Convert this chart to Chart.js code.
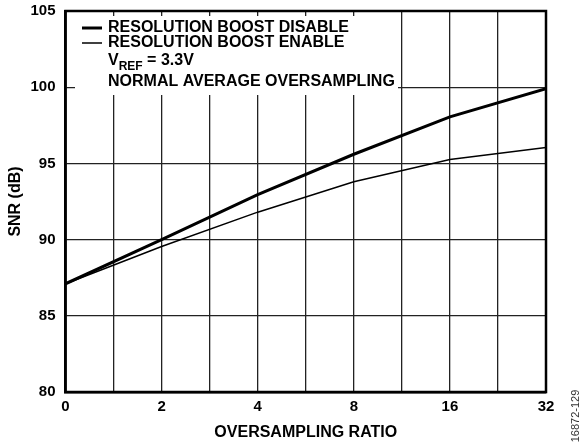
<!DOCTYPE html>
<html>
<head>
<meta charset="utf-8">
<script src="https://cdn.jsdelivr.net/npm/chart.js@4/dist/chart.umd.min.js"></script>
<style>
  html, body { margin: 0; padding: 0; background: #fff; }
  #wrap { width: 582px; height: 446px; }
</style>
</head>
<body>
<div id="wrap"><canvas id="snrCanvas" width="582" height="446"></canvas></div>
<script>
// oversampling ratio tick labels (every other grid line)
var xLabels = ['0', '2', '4', '8', '16', '32'];
var yTicks = [80, 85, 90, 95, 100, 105];

var boostDisable = [87.1, 90.0, 92.95, 95.6, 98.05, 99.9];
var boostEnable = [87.1, 89.55, 91.8, 93.8, 95.25, 96.05];

var seriesNames = ['RESOLUTION BOOST DISABLE', 'RESOLUTION BOOST ENABLE'];
var figId = '16872-129';

var FONT = '"Liberation Sans", Arial, sans-serif';

function toPoints(vals) {
    return vals.map(function (v, i) { return { x: i * 2, y: v }; });
}

// white legend box sitting on top of the grid
var legendBox = {
    id: 'legendBox',
    beforeDatasetsDraw: function (chart) {
        var ctx = chart.ctx;
        ctx.save();
        ctx.fillStyle = '#fff';
        ctx.fillRect(75, 16, 323, 79);

        var rows = [28, 43];
        var widths = [3, 1.5];
        ctx.strokeStyle = '#000';
        ctx.fillStyle = '#000';
        ctx.font = 'bold 16px ' + FONT;
        ctx.textBaseline = 'middle';
        for (var i = 0; i < 2; i++) {
            ctx.lineWidth = widths[i];
            ctx.beginPath();
            ctx.moveTo(82, rows[i]);
            ctx.lineTo(102, rows[i]);
            ctx.stroke();
            ctx.fillText(seriesNames[i], 108, rows[i]);
        }
        // V_REF = 3.3V
        ctx.fillText('V', 108, 61);
        var w = ctx.measureText('V').width;
        ctx.font = 'bold 12px ' + FONT;
        ctx.fillText('REF', 108 + w, 67);
        var w2 = ctx.measureText('REF').width;
        ctx.font = 'bold 16px ' + FONT;
        ctx.fillText(' = 3.3V', 108 + w + w2, 61);
        ctx.fillText('NORMAL AVERAGE OVERSAMPLING', 108, 82);
        ctx.restore();
    },
    afterDatasetsDraw: function (chart) {
        var a = chart.chartArea;
        var ctx = chart.ctx;
        ctx.save();
        ctx.strokeStyle = '#000';
        ctx.lineWidth = 2.5;
        ctx.strokeRect(a.left, a.top, a.right - a.left, a.bottom - a.top);
        // figure number on the right edge
        ctx.translate(576, 416);
        ctx.rotate(-Math.PI / 2);
        ctx.font = '11px ' + FONT;
        ctx.fillStyle = '#333';
        ctx.textAlign = 'center';
        ctx.textBaseline = 'middle';
        ctx.fillText(figId, 0, 0);
        ctx.restore();
    }
};

var ctx = document.getElementById('snrCanvas');
var myChart = new Chart(ctx, {
    type: 'line',
    data: {
        datasets: [
            {
                label: seriesNames[0],
                data: toPoints(boostDisable),
                borderColor: '#000',
                borderWidth: 3,
                pointRadius: 0,
                fill: false,
                tension: 0
            },
            {
                label: seriesNames[1],
                data: toPoints(boostEnable),
                borderColor: '#000',
                borderWidth: 1.5,
                pointRadius: 0,
                fill: false,
                tension: 0
            }
        ]
    },
    plugins: [legendBox],
    options: {
        responsive: false,
        animation: false,
        devicePixelRatio: 1,
        layout: { padding: { top: 11, right: 36, left: 0, bottom: 0 } },
        plugins: {
            legend: { display: false },
            tooltip: { enabled: false }
        },
        scales: {
            x: {
                type: 'linear',
                min: 0,
                max: 10,
                afterBuildTicks: function (scale) {
                    var t = [];
                    for (var i = 0; i <= 10; i++) t.push({ value: i });
                    scale.ticks = t;
                },
                afterFit: function (scale) { scale.height = 54; },
                ticks: {
                    autoSkip: false,
                    maxRotation: 0,
                    padding: 6,
                    color: '#000',
                    font: { family: FONT, size: 15, weight: 'bold' },
                    callback: function (v) { return v % 2 === 0 ? xLabels[v / 2] : ''; }
                },
                grid: { color: '#222', lineWidth: 1.3, drawTicks: false },
                border: { display: true, color: '#000', width: 2.5 },
                title: {
                    display: true,
                    text: 'OVERSAMPLING RATIO',
                    color: '#000',
                    font: { family: FONT, size: 16, weight: 'bold' },
                    padding: { top: 0, bottom: 3.5 }
                }
            },
            y: {
                min: 80,
                max: 105,
                afterBuildTicks: function (scale) {
                    scale.ticks = yTicks.map(function (v) { return { value: v }; });
                },
                afterFit: function (scale) {
                    scale.width = 65.5;
                    scale.paddingTop = 0;
                    scale.paddingBottom = 0;
                },
                ticks: {
                    padding: 10,
                    color: '#000',
                    font: { family: FONT, size: 15, weight: 'bold' }
                },
                grid: { color: '#222', lineWidth: 1.3, drawTicks: false },
                border: { display: true, color: '#000', width: 2.5 },
                title: {
                    display: true,
                    text: 'SNR (dB)',
                    color: '#000',
                    font: { family: FONT, size: 16, weight: 'bold' },
                    padding: { top: 6.4, bottom: 0 }
                }
            }
        }
    }
});
</script>
</body>
</html>
